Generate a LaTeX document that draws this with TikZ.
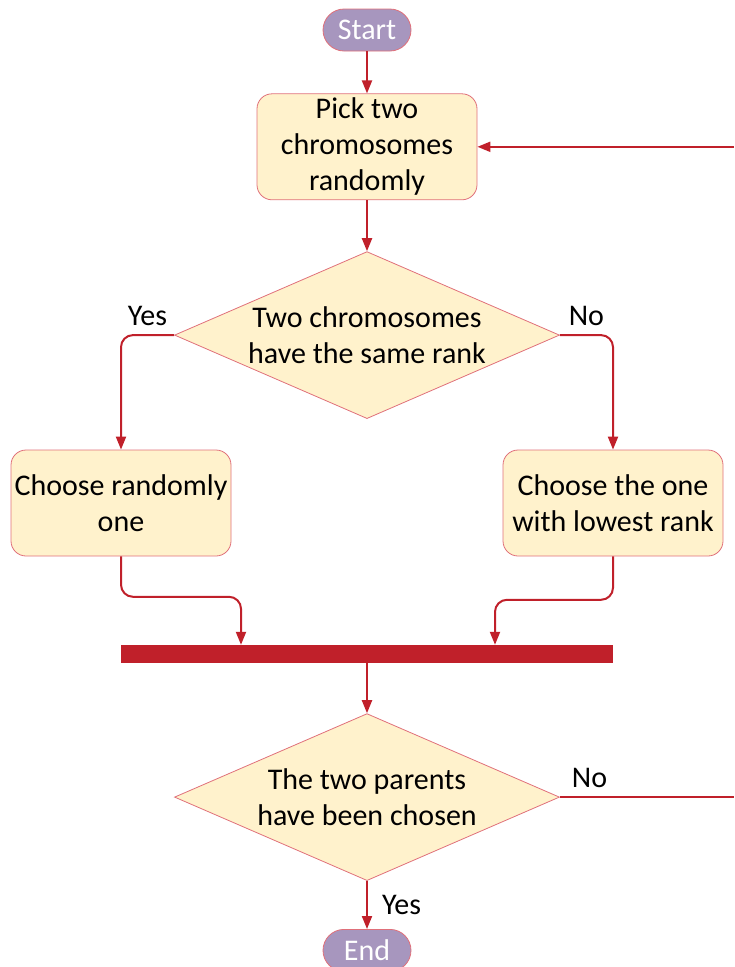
\documentclass[tikz,border=0pt]{standalone}
\usepackage{fontspec}
\setmainfont{Carlito}
\usetikzlibrary{arrows.meta,positioning,shapes.geometric}

\definecolor{flowred}{HTML}{C0202A}
\definecolor{edgepink}{HTML}{E0707A}
\definecolor{cream}{HTML}{FFF2CC}
\definecolor{lavender}{HTML}{A796BE}

\begin{document}
\begin{tikzpicture}[
  x=1pt, y=1pt,
  font=\fontsize{30}{36}\selectfont,
  >={Triangle[length=13pt,width=10pt]},
  terminal/.style={rectangle, rounded corners=21pt, draw=edgepink, fill=lavender, line width=0.8pt, minimum width=88pt, minimum height=42pt, inner sep=0pt, text=white},
  process/.style={rectangle, rounded corners=15pt, draw=edgepink, fill=cream, line width=0.8pt, minimum width=220pt, minimum height=106pt, align=center, inner sep=2pt},
  decision/.style={diamond, aspect=2.3, draw=edgepink, fill=cream, line width=0.8pt, minimum width=385pt, minimum height=167pt, inner sep=0pt, align=center},
  joinbar/.style={rectangle, fill=flowred, minimum width=492pt, minimum height=18pt, inner sep=0pt},
  arrow/.style={->, line width=2pt, draw=flowred, rounded corners=12pt},
  line/.style={line width=2pt, draw=flowred},
  lbl/.style={text=black, inner sep=8pt}
]
\useasboundingbox (0,0) rectangle (734,-967);

\node[terminal] (start) at (367,-30) {Start};
\node[process, below=42pt of start] (pick) {Pick two\\chromosomes\\randomly};
\node[decision, below=51pt of pick] (same) {Two chromosomes\\have the same rank};
\node[process] (randomone) at (121,-503) {Choose randomly\\one};
\node[process] (lowest) at (613,-503) {Choose the one\\with lowest rank};
\node[joinbar] (bar) at (367,-654) {};
\node[decision, below=50pt of bar] (chosen) {The two parents\\have been chosen};
\node[terminal, below=48pt of chosen] (finish) {End};

\coordinate (edgeno) at (734,0 |- chosen.east);
\coordinate (edgeback) at (734,0 |- pick.east);

\draw[arrow] (start) -- (pick);
\draw[arrow] (pick) -- (same);
\draw[arrow] (same.west) -| node[lbl, pos=0.25, above] {Yes} (randomone.north);
\draw[arrow] (same.east) -| node[lbl, pos=0.25, above] {No} (lowest.north);
\draw[arrow] (randomone.south) |- ([xshift=-126pt,yshift=48pt]bar.north) -- ([xshift=-126pt]bar.north);
\draw[arrow] (lowest.south) |- ([xshift=128pt,yshift=45pt]bar.north) -- ([xshift=128pt]bar.north);
\draw[arrow] (bar) -- (chosen);
\draw[line] (chosen.east) -- node[lbl, pos=0.17, above] {No} (edgeno);
\draw[arrow] (edgeback) -- (pick.east);
\draw[arrow] (chosen) -- node[lbl, right=6pt] {Yes} (finish);
\end{tikzpicture}
\end{document}
